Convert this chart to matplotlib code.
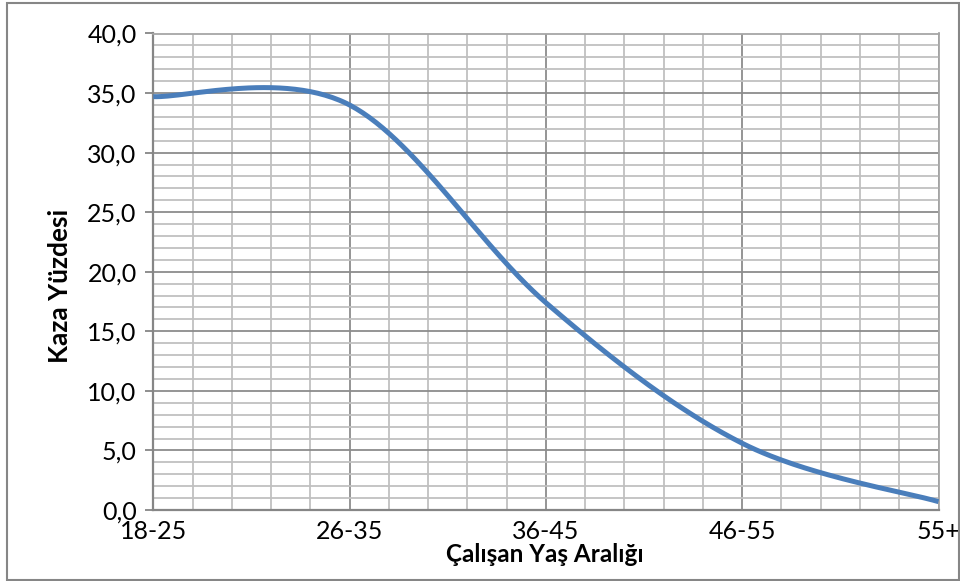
import matplotlib
matplotlib.use("Agg")
import matplotlib.pyplot as plt
import numpy as np
from matplotlib.patches import Rectangle
from matplotlib.ticker import MultipleLocator

categories = ["18-25", "26-35", "36-45", "46-55", "55+"]
values = [34.7, 34.0, 17.4, 5.6, 0.7]
y_ticks = [0, 5, 10, 15, 20, 25, 30, 35, 40]
y_tick_labels = ["0,0", "5,0", "10,0", "15,0", "20,0", "25,0", "30,0", "35,0", "40,0"]
x_title = "Çalışan Yaş Aralığı"
y_title = "Kaza Yüzdesi"

plt.rcParams['font.family'] = ['Lato', 'DejaVu Sans']

def excel_smooth(xs, ys, n=60):
    xs = np.asarray(xs, float); ys = np.asarray(ys, float)
    P = np.column_stack([xs, ys])
    out = []
    m = len(P)
    for i in range(m - 1):
        p0 = P[i]; p1 = P[i + 1]
        pm = P[i - 1] if i > 0 else P[i]
        p2 = P[i + 2] if i + 2 < m else P[i + 1]
        c1 = p0 + (p1 - pm) / 6.0
        c2 = p1 - (p2 - p0) / 6.0
        t = np.linspace(0, 1, n)[:, None]
        seg = ((1 - t) ** 3) * p0 + 3 * ((1 - t) ** 2) * t * c1 + 3 * (1 - t) * t ** 2 * c2 + t ** 3 * p1
        if i > 0:
            seg = seg[1:]
        out.append(seg)
    out = np.vstack(out)
    return out[:, 0], out[:, 1]

W, H = 960, 581
fig = plt.figure(figsize=(W / 100, H / 100), dpi=100)
fig.patches.append(Rectangle((7 / W, 1 / H), 952 / W, 577 / H,
                             transform=fig.transFigure, fill=False,
                             edgecolor="#868686", linewidth=1.5))

ax = fig.add_axes([153.3 / W, 1 - 510 / H, (938.5 - 153.3) / W, (510 - 33.5) / H])

xpos = np.arange(len(categories))
sx, sy = excel_smooth(xpos, values)
ax.plot(sx, sy, color="#4a7ebb", linewidth=3.6, solid_capstyle="butt", zorder=3)

ax.set_xlim(0, len(categories) - 1)
ax.set_ylim(0, 40)

ax.set_yticks(y_ticks)
ax.set_yticklabels(y_tick_labels)
ax.yaxis.set_minor_locator(MultipleLocator(1))
ax.set_xticks(xpos)
ax.set_xticklabels(categories)
ax.xaxis.set_minor_locator(MultipleLocator(0.2))

ax.grid(which="minor", color="#c0c0c0", linewidth=1.3)
ax.grid(which="major", color="#8c8c8c", linewidth=1.3)
ax.set_axisbelow(True)

ax.tick_params(axis="y", which="major", length=6, width=1.3, color="#868686",
               labelsize=18, pad=6, labelcolor="black")
ax.tick_params(axis="y", which="minor", length=0)
ax.tick_params(axis="x", which="both", length=0, labelsize=18, pad=7, labelcolor="black")

for side in ["top", "right"]:
    ax.spines[side].set_color("#a6a6a6")
    ax.spines[side].set_linewidth(1.3)
ax.spines["left"].set_color("#868686")
ax.spines["left"].set_linewidth(1.6)
ax.spines["bottom"].set_color("#868686")
ax.spines["bottom"].set_linewidth(1.6)

fig.text(60 / W, 1 - 286 / H, y_title, rotation=90, fontsize=19, fontweight="bold",
         ha="center", va="center")
fig.text(545 / W, 1 - 555 / H, x_title, fontsize=17.5, fontweight="bold",
         ha="center", va="center")

fig.savefig("out.png", dpi=100)
